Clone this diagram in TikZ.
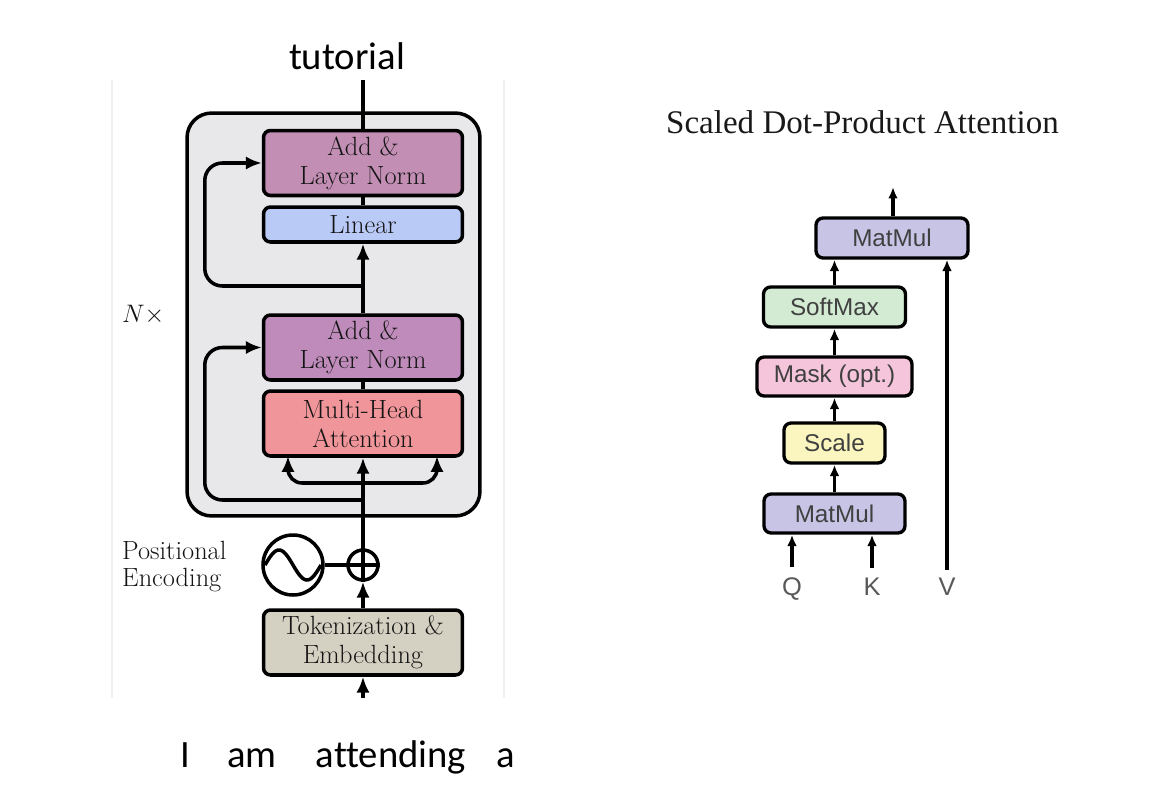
\documentclass[tikz,border=0pt]{standalone}
\usepackage{fontspec}
\newfontfamily\calfont[Ligatures=NoCommon]{Carlito}
\newfontfamily\timesf{Liberation Serif}
\newfontfamily\arialf{Liberation Sans}
\usetikzlibrary{arrows.meta,calc}
\definecolor{outerC}{HTML}{E8E8EA}
\definecolor{addA}{HTML}{C28EB4}
\definecolor{addB}{HTML}{BE8BBA}
\definecolor{linC}{HTML}{B9CAF6}
\definecolor{mhaC}{HTML}{F0959A}
\definecolor{tokC}{HTML}{D4D1C2}
\definecolor{mmC}{HTML}{C7C4E6}
\definecolor{smC}{HTML}{D3EAD3}
\definecolor{maskC}{HTML}{F5C6DB}
\definecolor{scC}{HTML}{FBF6BF}
\tikzset{
 ln/.style={line width=2pt},
 arr/.style={ln, -{Latex[length=9pt,width=7.5pt]}},
 rln/.style={line width=1.9pt},
 rarr/.style={rln, -{Latex[length=6.5pt,width=5.5pt]}},
 lbox/.style={draw, ln, rounded corners=4pt, minimum width=3.98cm, minimum height=1.3cm, inner sep=0pt, align=center, text=black!92, font=\fontsize{15}{16.5}\selectfont},
 rbox/.style={draw, rln, rounded corners=4pt, minimum height=0.8cm, inner sep=0pt, text=black!75, font=\arialf\fontsize{13.8}{15}\selectfont},
 word/.style={font=\calfont\fontsize{22}{24}\selectfont, anchor=base},
 lbl/.style={anchor=base west, text=black!92, font=\fontsize{15}{16.5}\selectfont},
 qkv/.style={anchor=base, inner sep=2pt, text=black!65, font=\arialf\fontsize{14.5}{16}\selectfont},
}
\begin{document}
\begin{tikzpicture}[x=0.02cm,y=-0.02cm]
\useasboundingbox (0,0) rectangle (1160,798);
% faint panel edges
\draw[black!6, line width=1.5pt] (112,80) -- (112,698);
\draw[black!6, line width=1.5pt] (504,80) -- (504,698);
% outer stack
\node[draw, ln, fill=outerC, rounded corners=14pt, minimum width=5.86cm, minimum height=8.06cm, inner sep=0pt] (stack) at (333.5,314.5) {};
% left nodes
\node[lbox, fill=addA] (addtop) at (363,163) {Add \&\\Layer Norm};
\node[lbox, fill=linC, minimum height=0.7cm] (linear) at (363,224.5) {Linear};
\node[lbox, fill=addB] (addlow) at (363,347.5) {Add \&\\Layer Norm};
\node[lbox, fill=mhaC] (mha) at (363,423.5) {Multi-Head\\Attention};
\node[lbox, fill=tokC] (tok) at (363,642.5) {Tokenization \&\\Embedding};
\node[circle, draw, ln, minimum size=0.6cm, inner sep=0pt] (plus) at (363,565) {};
\node[circle, draw, ln, minimum size=1.2cm, inner sep=0pt] (pe) at (293,565) {};
\draw[ln] plot[domain=0:360, samples=60, smooth] ({265+\x/360*56},{565-15*sin(\x)});
\draw[ln] (plus.west) -- (plus.east);
\draw[ln] (plus.north) -- (plus.south);
\draw[ln] (pe.east) -- (plus.west);
% coordinates
\coordinate (out) at (363,80);
\coordinate (in) at (363,698);
\coordinate (r1) at (363,286);
\coordinate (r2) at (363,500);
\coordinate (b) at (363,483);
\coordinate (qin) at (288,456);
\coordinate (vin) at (437,456);
% connectors
\draw[ln] (addtop.north) -- (out);
\draw[ln] (linear.north) -- (addtop.south);
\draw[arr] (addlow.north) -- (linear.south);
\draw[ln] (mha.north) -- (addlow.south);
\draw[arr] (plus.north) -- (mha.south);
\draw[arr] (tok.north) -- (plus.south);
\draw[arr] (in) -- (tok.south);
\draw[arr, rounded corners=10pt] (r1) -| ([xshift=-1.14cm]addtop.west) -- (addtop.west);
\draw[arr, rounded corners=10pt] (r2) -| ([xshift=-1.14cm]addlow.west) -- (addlow.west);
\draw[arr, rounded corners=8pt] (b) -| (qin);
\draw[arr, rounded corners=8pt] (b) -| (vin);
% left labels
\node[lbl] (nx) at (116,322) {$N\times$};
\node[lbl] (pel1) at (116,559) {Positional};
\node[lbl] (pel2) at (116,586) {Encoding};
% words
\node[word] (tut) at (347,69) {tutorial};
\node[word] (w1) at (185,767) {I};
\node[word] (w2) at (252,767) {am};
\node[word] (w3) at (391,767) {attending};
\node[word] (w4) at (506,767) {a};
% right diagram
\node[anchor=base, text=black!90, font=\timesf\fontsize{18.8}{20}\selectfont] (title) at (862.5,133) {Scaled Dot-Product Attention};
\node[rbox, fill=mmC, minimum width=3.04cm] (mm2) at (892,238) {MatMul};
\node[rbox, fill=smC, minimum width=2.84cm] (soft) at (834.5,307) {SoftMax};
\node[rbox, fill=maskC, minimum width=3.1cm, minimum height=0.78cm] (mask) at (834.5,376.5) {Mask (opt.)};
\node[rbox, fill=scC, minimum width=2.02cm] (scale) at (834.5,443) {Scale};
\node[rbox, fill=mmC, minimum width=2.82cm, minimum height=0.78cm] (mm1) at (834.5,513.5) {MatMul};
\node[qkv] (q) at (792,595) {Q};
\node[qkv] (k) at (872,595) {K};
\node[qkv] (v) at (947,595) {V};
\coordinate (o2) at (893,187);
\draw[rarr] (mm2.north -| o2) -- (o2);
\draw[rarr] (soft.north) -- (soft.north |- mm2.south);
\draw[rarr] (mask.north) -- (soft.south);
\draw[rarr] (scale.north) -- (mask.south);
\draw[rarr] (mm1.north) -- (scale.south);
\draw[rarr] ([yshift=0.12cm]q.north) -- (q.north |- mm1.south);
\draw[rarr] ([yshift=0.12cm]k.north) -- (k.north |- mm1.south);
\draw[rarr] ([yshift=0.08cm]v.north) -- (v.north |- mm2.south);
\end{tikzpicture}
\end{document}
